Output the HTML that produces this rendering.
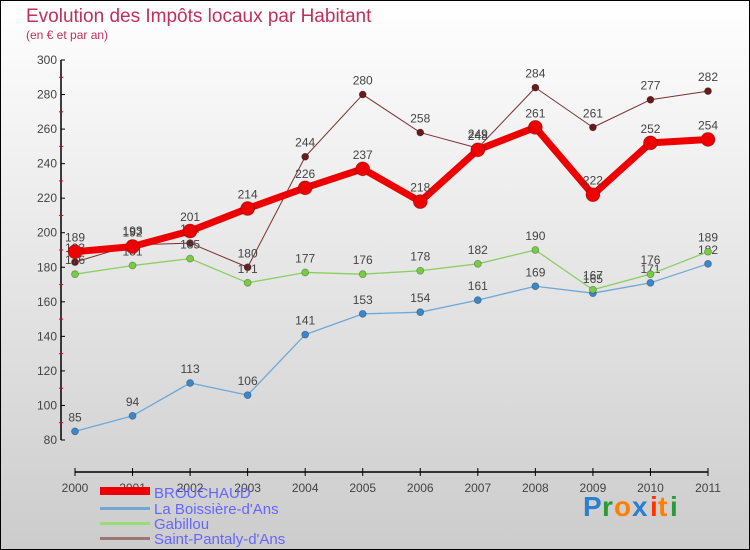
<!DOCTYPE html>
<html><head><meta charset="utf-8"><style>
body{margin:0;width:750px;height:550px;overflow:hidden}
svg{display:block;font-family:"Liberation Sans",sans-serif}
</style></head><body>
<svg width="750" height="550" viewBox="0 0 750 550">
<defs><linearGradient id="bg" x1="0" y1="0" x2="0" y2="1"><stop offset="0" stop-color="#ffffff"/><stop offset="1" stop-color="#cccccc"/></linearGradient></defs>
<rect x="0.5" y="0.5" width="749" height="549" fill="url(#bg)" stroke="#000"/>
<text x="26" y="22" font-size="19" fill="#c0305a">Evolution des Impôts locaux par Habitant</text>
<text x="26" y="39" font-size="12" fill="#c0305a">(en € et par an)</text>
<g id="axes"></g>
<g id="series"></g>
<g>
<rect x="100" y="487" width="50" height="8" fill="#ee0000"/>
<text x="154" y="498" font-size="15" fill="#6666ff">BROUCHAUD</text>
<rect x="100" y="507" width="50" height="3" fill="#6fa8d6"/>
<text x="154" y="514" font-size="15" fill="#6666ff">La Boissière-d'Ans</text>
<rect x="100" y="522" width="50" height="3" fill="#99dd77"/>
<text x="154" y="529" font-size="15" fill="#6666ff">Gabillou</text>
<rect x="100" y="537" width="50" height="3" fill="#997777"/>
<text x="154" y="544" font-size="15" fill="#6666ff">Saint-Pantaly-d'Ans</text>
</g>
<g font-size="28" font-weight="bold">
<text x="583" y="516" fill="#2a7fd0">P</text><text x="602" y="516" fill="#2a9a3a">r</text><text x="614" y="516" fill="#ff7f00">o</text><text x="632" y="516" fill="#2a7fd0">x</text><text x="650" y="516" fill="#ff3300">i</text><text x="658" y="516" fill="#ff7f00">t</text><text x="670" y="516" fill="#2a9a3a">i</text>
</g>
</svg>
<script>
const years=["2000","2001","2002","2003","2004","2005","2006","2007","2008","2009","2010","2011"];
const brouchaud=[189,192,201,214,226,237,218,248,261,222,252,254];
const boissiere=[85,94,113,106,141,153,154,161,169,165,171,182];
const gabillou=[176,181,185,171,177,176,178,182,190,167,176,189];
const pantaly=[183,193,194,180,244,280,258,249,284,261,277,282];
const yTicks=[80,100,120,140,160,180,200,220,240,260,280,300];
const NS="http://www.w3.org/2000/svg";
const X=i=>75+i*(708-75)/11;
const Y=v=>440-(v-80)*(380/220);
function el(t,a,p){const e=document.createElementNS(NS,t);for(const k in a)e.setAttribute(k,a[k]);p.appendChild(e);return e;}
const ax=document.getElementById('axes');
let l=el('line',{x1:61,y1:60,x2:61,y2:440,stroke:'#000','stroke-width':1.5},ax);


yTicks.forEach((v,i)=>{
 el('line',{x1:61,y1:Y(v),x2:65,y2:Y(v),stroke:'#000'},ax);
 if(i<yTicks.length-1) el('line',{x1:59,y1:Y(v+10),x2:63,y2:Y(v+10),stroke:'#e00'},ax);
 const t=el('text',{x:57,y:Y(v)+4,'text-anchor':'end','font-size':12,fill:'#444'},ax);t.textContent=v;
 
 
});
l=el('line',{x1:75,y1:472,x2:708,y2:472,stroke:'#000','stroke-width':1.5},ax);


years.forEach((y,i)=>{
 el('line',{x1:X(i),y1:468,x2:X(i),y2:476,stroke:'#000'},ax);
 const t=el('text',{x:X(i),y:492,'text-anchor':'middle','font-size':12,fill:'#444'},ax);t.textContent=y;
 
 
});
const sg=document.getElementById('series');
function series(data,name,color,w,r,dot){
 const g=el('g',{},sg);
 
 
 const p=el('polyline',{points:data.map((v,i)=>X(i)+','+Y(v)).join(' '),fill:'none',stroke:color,'stroke-width':w,'stroke-linejoin':'round'},g);
 
 
 data.forEach((v,i)=>{
  const c=el('circle',{cx:X(i),cy:Y(v),r:r,fill:dot,stroke:'rgba(0,0,0,0.3)','stroke-width':0.8},g);
  
  
  const t=el('text',{x:X(i),y:Y(v)-10,'text-anchor':'middle','font-size':12,fill:'#444'},g);t.textContent=v;
  
  
 });
}
series(pantaly,'saint-pantaly','#7a3030',1,3.5,'#6a1a1a');
series(boissiere,'boissiere','#6fa8d6',1.3,3.5,'#3a88cc');
series(gabillou,'gabillou','#88d060',1.3,3.5,'#77cc44');
series(brouchaud,'brouchaud','#ee0000',7,7,'#ee0000');
</script>
</body></html>
